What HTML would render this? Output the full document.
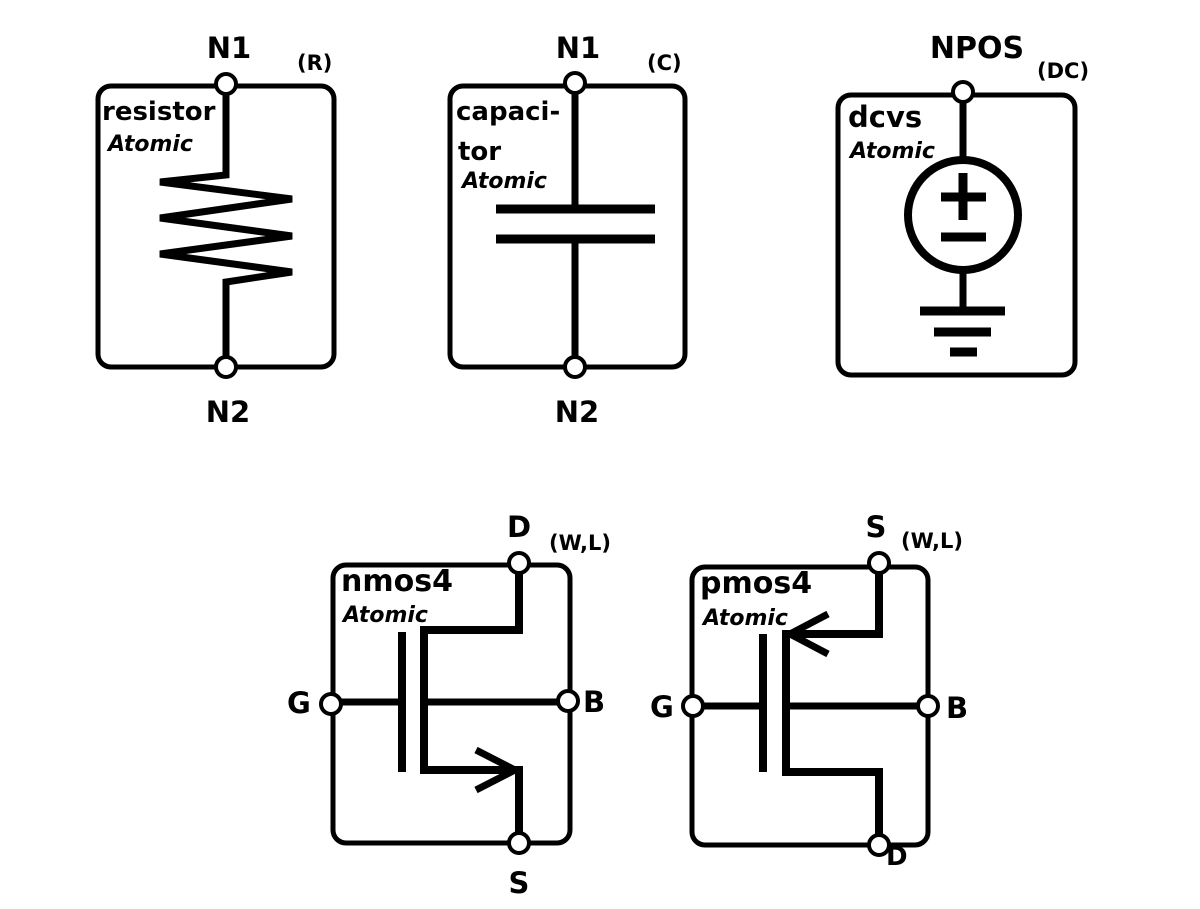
<!DOCTYPE html>
<html><head><meta charset="utf-8"><style>
html,body{margin:0;padding:0;background:#fff}
svg{display:block}
text{font-family:"DejaVu Sans","Liberation Sans",sans-serif;font-weight:bold;fill:#000}
.i{font-style:italic;font-weight:bold}
</style></head><body>
<svg width="1200" height="909" viewBox="0 0 1200 909" xmlns="http://www.w3.org/2000/svg">
<g fill="none" stroke="#000" stroke-width="5">
<rect x="98" y="86" width="236" height="281" rx="13"/>
<polyline stroke-width="7" points="226,84 226,175 160,182 292,199 160,218 292,236 160,254 292,272 226,282 226,367"/>
<rect x="450" y="86" width="235" height="281" rx="13"/>
<line x1="575" y1="83" x2="575" y2="209" stroke-width="7"/>
<line x1="575" y1="239" x2="575" y2="367" stroke-width="7"/>
<line x1="496" y1="209" x2="655" y2="209" stroke-width="9"/>
<line x1="496" y1="239" x2="655" y2="239" stroke-width="9"/>
<rect x="838" y="95" width="237" height="280" rx="13"/>
<line x1="963" y1="92" x2="963" y2="158" stroke-width="7"/>
<circle cx="963" cy="215" r="55" stroke-width="8"/>
<line x1="963" y1="273" x2="963" y2="311" stroke-width="7"/>
<line x1="941" y1="197" x2="986" y2="197" stroke-width="9"/>
<line x1="963" y1="173" x2="963" y2="220" stroke-width="9"/>
<line x1="941" y1="237" x2="986" y2="237" stroke-width="9"/>
<line x1="920" y1="311" x2="1005" y2="311" stroke-width="9"/>
<line x1="934" y1="332" x2="991" y2="332" stroke-width="9"/>
<line x1="950" y1="352" x2="977" y2="352" stroke-width="9"/>
<rect x="333" y="565" width="237" height="278" rx="13"/>
<line x1="402" y1="632" x2="402" y2="772" stroke-width="8"/>
<polyline stroke-width="8" points="519,563 519,630 424,630 424,770 519,770 519,843"/>
<line x1="331" y1="702" x2="402" y2="702" stroke-width="7"/>
<line x1="424" y1="702" x2="568" y2="702" stroke-width="7"/>
<polyline stroke-width="7" points="476,750 515,770 476,790"/>
<rect x="692" y="567" width="236" height="278" rx="13"/>
<line x1="763" y1="634" x2="763" y2="772" stroke-width="8"/>
<polyline stroke-width="8" points="879,563 879,634 786,634 786,772 879,772 879,845"/>
<line x1="693" y1="706" x2="763" y2="706" stroke-width="7"/>
<line x1="786" y1="706" x2="928" y2="706" stroke-width="7"/>
<polyline stroke-width="7" points="828,614 790,634 828,654"/>
</g>
<g fill="#fff" stroke="#000" stroke-width="4">
<circle cx="226" cy="84" r="10"/><circle cx="226" cy="367" r="10"/>
<circle cx="575" cy="83" r="10"/><circle cx="575" cy="367" r="10"/>
<circle cx="963" cy="92" r="10"/>
<circle cx="519" cy="563" r="10"/><circle cx="519" cy="843" r="10"/>
<circle cx="331" cy="704" r="10"/><circle cx="568" cy="701" r="10"/>
<circle cx="879" cy="563" r="10"/><circle cx="879" cy="845" r="10"/>
<circle cx="693" cy="706" r="10"/><circle cx="928" cy="706" r="10"/>
</g>
<g font-size="29">
<text x="229" y="58" text-anchor="middle">N1</text>
<text x="228" y="422" text-anchor="middle">N2</text>
<text x="578" y="58" text-anchor="middle">N1</text>
<text x="577" y="422" text-anchor="middle">N2</text>
<text x="977" y="58" text-anchor="middle" font-size="30">NPOS</text>
<text x="519" y="537" text-anchor="middle">D</text>
<text x="519" y="893" text-anchor="middle">S</text>
<text x="287" y="713">G</text>
<text x="583" y="712">B</text>
<text x="876" y="537" text-anchor="middle">S</text>
<text x="650" y="717">G</text>
<text x="946" y="718">B</text>
<text x="886" y="865" font-size="26">D</text>
</g>
<g font-size="21">
<text x="297" y="70">(R)</text>
<text x="647" y="70">(C)</text>
<text x="1037" y="78">(DC)</text>
<text x="549" y="550">(W,L)</text>
<text x="901" y="548">(W,L)</text>
</g>
<g font-size="26">
<text x="102" y="120">resistor</text>
<text x="456" y="120">capaci-</text>
<text x="458" y="160">tor</text>
<text x="848" y="127" font-size="29">dcvs</text>
<text x="341" y="591" font-size="30">nmos4</text>
<text x="700" y="593" font-size="30">pmos4</text>
</g>
<g font-size="22">
<text class="i" x="108" y="151">Atomic</text>
<text class="i" x="462" y="188">Atomic</text>
<text class="i" x="850" y="158">Atomic</text>
<text class="i" x="343" y="622">Atomic</text>
<text class="i" x="703" y="625">Atomic</text>
</g>
</svg>
</body></html>
